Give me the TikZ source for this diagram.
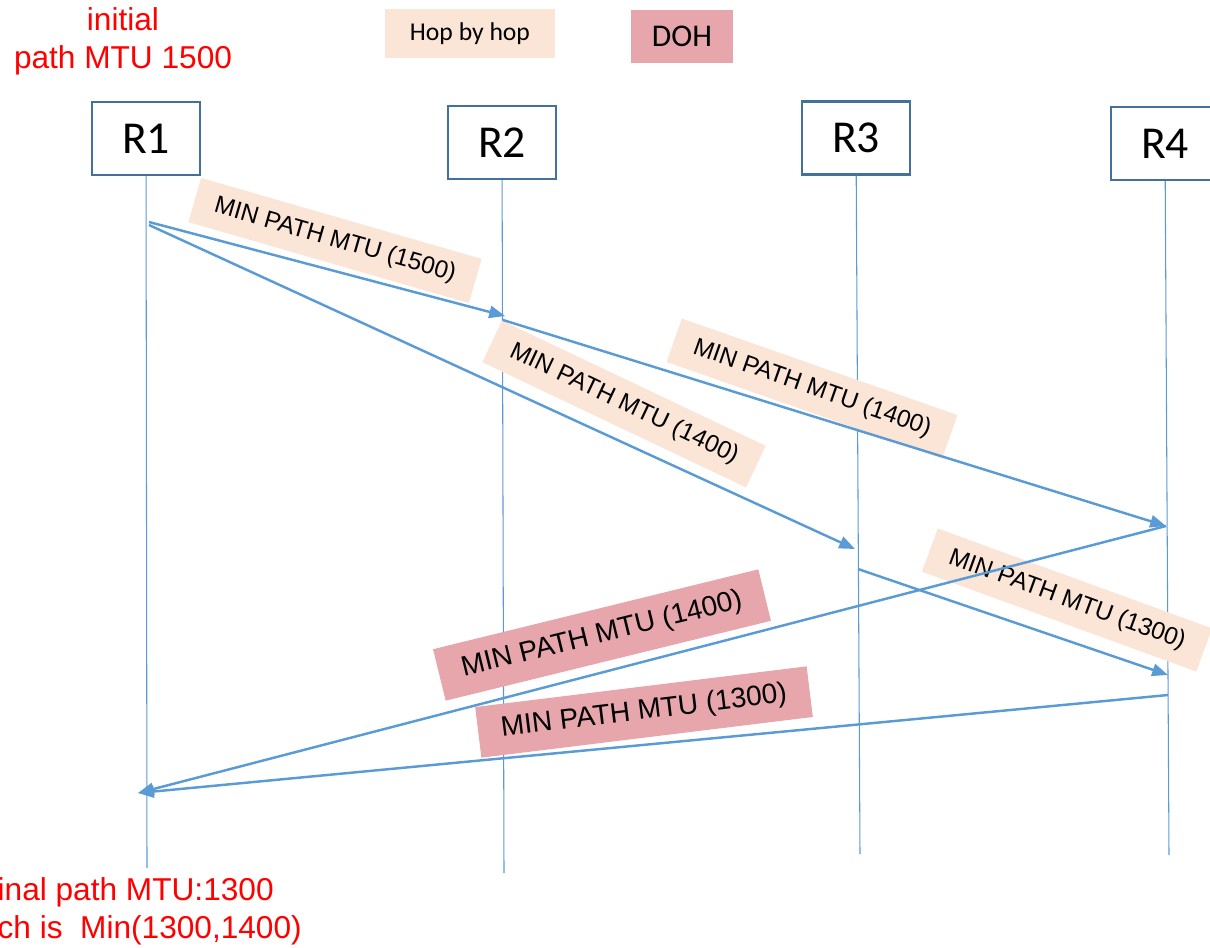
\documentclass[tikz,border=0pt]{standalone}
\usepackage{fontspec}
\setmainfont{Liberation Sans}
\newfontfamily\calibri{Carlito}
\usetikzlibrary{arrows.meta,positioning}
\definecolor{msgblue}{HTML}{5B9BD5}
\definecolor{boxblue}{HTML}{41719C}
\definecolor{hopfill}{HTML}{FBE5D6}
\definecolor{dohfill}{HTML}{E6A6AC}

\begin{document}
\begin{tikzpicture}[x=0.02cm,y=-0.02cm]
\tikzstyle{router}=[rectangle, draw=boxblue, line width=1.2pt, fill=white, minimum width=2.16cm, minimum height=1.46cm, font=\calibri\fontsize{26}{30}\selectfont]
\tikzstyle{lifeline}=[msgblue, line width=0.6pt]
\tikzstyle{msg}=[-{Triangle[length=9pt,width=7pt]}, msgblue, line width=1.4pt]
\tikzstyle{hop}=[rectangle, fill=hopfill, minimum width=5.84cm, minimum height=0.92cm, font=\fontsize{13.9}{16}\selectfont]
\tikzstyle{doh}=[rectangle, fill=dohfill, minimum width=6.7cm, minimum height=1.06cm, font=\fontsize{16}{19}\selectfont]
\tikzstyle{note}=[red, align=center, font=\fontsize{18}{21.6}\selectfont]
  \useasboundingbox (0,0) rectangle (1210,947);

  % legend
  \node[rectangle, fill=hopfill, minimum width=3.4cm, minimum height=0.98cm, font=\calibri\fontsize{14.6}{17}\selectfont] (hopkey) at (470,33.5) {Hop by hop};
  \node[rectangle, fill=dohfill, minimum width=2.04cm, minimum height=1.06cm, font=\calibri\fontsize{18}{21}\selectfont] (dohkey) at (682,36.5) {DOH};

  % routers and their lifelines
  \node[router] (R1) at (146,138.5) {R1};
  \node[router] (R2) at (502,142.5) {R2};
  \node[router] (R3) at (856,138) {R3};
  \node[router] (R4) at (1165,143.5) {R4};
  \coordinate (e1) at (147,868);
  \coordinate (e2) at (504,873);
  \coordinate (e3) at (860,854);
  \coordinate (e4) at (1169,855);
  \draw[lifeline] (R1) -- (e1);
  \draw[lifeline] (R2) -- (e2);
  \draw[lifeline] (R3) -- (e3);
  \draw[lifeline] (R4) -- (e4);

  % notes at the start and the end (base = last line)
  \node[note, anchor=base] (start) at (123,68) {initial\\path MTU 1500};
  \node[note, anchor=base] (final) at (126,938) {Final path MTU:1300\\which is\ \ Min(1300,1400)};

  % message labels
  \node[hop, rotate=-16.1] (h1) at (335,240.5) {MIN PATH MTU (1500)};
  \node[hop, rotate=-25.4] (h2) at (624,404) {MIN PATH MTU (1400)};
  \node[hop, rotate=-19.3] (h3) at (812,388.5) {MIN PATH MTU (1400)};
  \node[hop, rotate=-20] (h4) at (1067,600) {MIN PATH MTU (1300)};
  \node[doh, rotate=13.8] (d1) at (602,635) {MIN PATH MTU (1400)};
  \node[doh, rotate=7, minimum width=6.68cm, minimum height=1.02cm] (d2) at (644,712) {MIN PATH MTU (1300)};

  % points where the messages leave and arrive
  \coordinate (r1a) at (149,222);
  \coordinate (r1b) at (149,225);
  \coordinate (r1in) at (138,793);
  \coordinate (r2in) at (505,316);
  \coordinate (r2out) at (503,320);
  \coordinate (r3in) at (855,549);
  \coordinate (r3out) at (858,569);
  \coordinate (r4a) at (1166,526);
  \coordinate (r4b) at (1168,675);
  \coordinate (r4c) at (1168,695);

  \draw[msg] (r1a) -- (r2in);
  \draw[msg] (r1b) -- (r3in);
  \draw[msg] (r2out) -- (r4a);
  \draw[msg] (r3out) -- (r4b);
  \draw[msg] (r4a) -- (r1in);
  \draw[msg] (r4c) -- (r1in);
\end{tikzpicture}
\end{document}
